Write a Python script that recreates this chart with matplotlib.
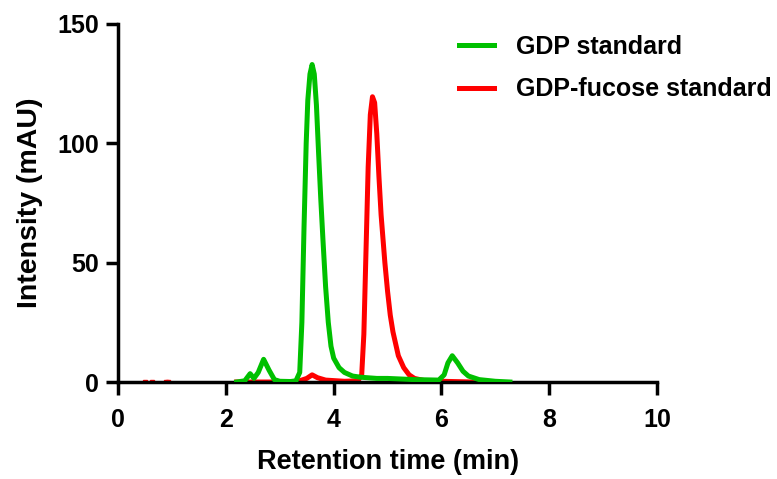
import matplotlib
matplotlib.use("Agg")
import matplotlib.pyplot as plt

plt.rcParams['font.family'] = ['Liberation Sans', 'DejaVu Sans']
plt.rcParams['font.weight'] = 'bold'

gdp_x = [2.2, 2.35, 2.45, 2.52, 2.6, 2.7, 2.8, 2.9, 3.0, 3.2, 3.3, 3.37, 3.41, 3.45, 3.49, 3.52, 3.56,
         3.6, 3.64, 3.68, 3.72, 3.76, 3.8, 3.85, 3.9, 3.95, 4.0, 4.1, 4.2, 4.35, 4.5, 4.8, 5.0, 5.5,
         5.95, 6.05, 6.12, 6.2, 6.3, 6.4, 6.5, 6.7, 7.0, 7.27]
gdp_y = [0, 0.5, 3.5, 1.5, 4, 9.5, 5, 1, 0.3, 0.2, 0.5, 4, 25, 65, 100, 118, 129,
         133, 129, 116, 96, 77, 60, 40, 25, 15, 10, 6, 4, 2.5, 2, 1.5, 1.5, 1,
         0.8, 3, 8, 11, 8, 4.5, 2.5, 1, 0.3, 0]

fuc_x = [2.2, 3.3, 3.5, 3.6, 3.7, 3.85, 4.2, 4.45, 4.52, 4.56, 4.6, 4.64, 4.68, 4.72, 4.76, 4.8, 4.84,
         4.88, 4.95, 5.0, 5.05, 5.1, 5.2, 5.3, 5.4, 5.5, 5.7, 6.0, 6.6]
fuc_y = [0, 0, 1.5, 3, 1.8, 0.8, 0.3, 0.5, 3, 20, 55, 90, 112, 119.5, 117, 104, 86,
         70, 50, 38, 28, 21, 11, 6, 3, 1.5, 0.5, 0.3, 0]

fuc_noise_x = [0.5, 0.62, 0.88, 0.93]
fuc_noise_y = [0, 0, 0, 0]

fig = plt.figure(figsize=(7.77, 4.79), dpi=100)
ax = fig.add_axes([0.152, 0.2025, 0.6936, 0.7475])

ax.plot(fuc_noise_x, fuc_noise_y, linestyle='none', marker='s', markersize=3.5, color='#ff0000')
ax.plot(gdp_x, gdp_y, color='#00c000', lw=3.6, label='GDP standard', zorder=3, solid_joinstyle='round')
ax.plot(fuc_x, fuc_y, color='#ff0000', lw=3.6, label='GDP-fucose standard', zorder=2, solid_joinstyle='round')

ax.set_xlim(0, 10)
ax.set_ylim(0, 150)
ax.set_xticks([0, 2, 4, 6, 8, 10])
ax.set_yticks([0, 50, 100, 150])
for s in ['top', 'right']:
    ax.spines[s].set_visible(False)
for s in ['left', 'bottom']:
    ax.spines[s].set_linewidth(2.5)
ax.tick_params(axis='both', width=2.5, length=9, labelsize=18, direction='out', pad=5)
ax.tick_params(axis='x', pad=10)
for lab in ax.get_xticklabels() + ax.get_yticklabels():
    lab.set_fontweight('bold')

ax.set_xlabel('Retention time (min)', fontsize=19.5, fontweight='bold', labelpad=12)
ax.set_ylabel('Intensity (mAU)', fontsize=20.5, fontweight='bold', labelpad=10)

leg = ax.legend(loc='upper left', bbox_to_anchor=(437 / 777, 1 - 12 / 479), bbox_transform=fig.transFigure,
                frameon=False, fontsize=18, handlelength=1.4, handletextpad=0.88, labelspacing=0.75)
for t in leg.get_texts():
    t.set_fontweight('bold')

fig.savefig('out.png', dpi=100)
